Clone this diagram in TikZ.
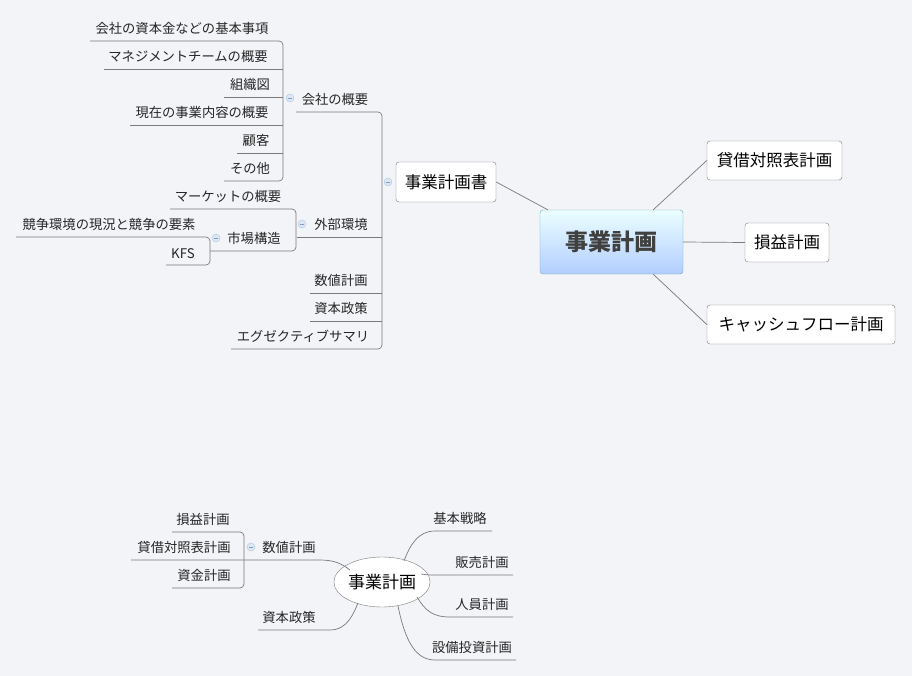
\documentclass[tikz,border=0pt]{standalone}
\usepackage{fontspec}
\usetikzlibrary{shapes.geometric}
\setmainfont{Noto Sans CJK JP}
\definecolor{bg}{HTML}{F3F4F8}
\definecolor{ln}{HTML}{7A7A7A}
\definecolor{cb}{HTML}{A9C4E4}
\begin{document}
\begin{tikzpicture}[x=1pt,y=-1pt,
  lbl/.style={inner sep=0pt,font=\fontsize{13.3}{15}\selectfont,text=black!85},
  box/.style={draw=ln,rounded corners=3pt,fill=white,font=\fontsize{16.5}{18}\selectfont,inner sep=0pt},
  br/.style={draw=ln,line width=0.7pt,rounded corners=4pt},
  col/.style={draw=cb,fill=cb!40,circle,inner sep=0pt,minimum size=8pt,
    path picture={\draw[cb!80!black,line width=0.6pt] ([xshift=-2pt]path picture bounding box.center) -- ([xshift=2pt]path picture bounding box.center);}},
  cl/.style={draw=ln,line width=0.7pt}]
\fill[bg] (0,0) rectangle (912,676);
\useasboundingbox (0,0) rectangle (912,676);
% ---- top map
\node[box,top color=cyan!8!white,bottom color=cyan!35!blue!30,draw=cyan!40!gray,minimum width=143pt,minimum height=64pt,font=\fontsize{23}{26}\selectfont\bfseries,text=black!75] (c) at (611.5,242) {事業計画};
\node[box,minimum width=135pt,minimum height=39pt] (r1) at (774.5,160.5) {貸借対照表計画};
\node[box,minimum width=84pt,minimum height=39pt] (r2) at (787,242.5) {損益計画};
\node[box,minimum width=188pt,minimum height=39pt] (r3) at (801,324.5) {キャッシュフロー計画};
\draw[cl] (c.north east)++(-30,0) -- (r1.west);
\draw[cl] (c.east) -- (r2.west);
\draw[cl] (c.south east)++(-30,0) -- (r3.west);
\node[box,minimum width=100pt,minimum height=40pt] (p) at (446,182) {事業計画書};
\draw[cl] (p.east) -- ([xshift=8pt]c.north west);
\node[col] (pc) at (388,182) {};
\draw[br] (296,112) -| (382,349) -- (231,349);
\foreach \y/\xa in {237/297,293/310,321/310} \draw[cl] (\xa,\y) -- (382,\y);
\node[lbl,anchor=south] (a1) at (335,106) {会社の概要};
\node[lbl,anchor=south] (a2) at (341,231) {外部環境};
\node[lbl,anchor=south] (a3) at (341,287) {数値計画};
\node[lbl,anchor=south] (a4) at (341,315) {資本政策};
\node[lbl,anchor=south] (a5) at (303,343) {エグゼクティブサマリ};
% company children
\node[col] (c1) at (290,98) {};
\draw[br] (90,41) -| (283,181) -- (224,181);
\foreach \y/\xa in {69/104,97/224,125/130,153/237} \draw[cl] (\xa,\y) -- (283,\y);
\node[lbl,anchor=south] (b1) at (182,35) {会社の資本金などの基本事項};
\node[lbl,anchor=south] (b2) at (188,63) {マネジメントチームの概要};
\node[lbl,anchor=south] (b3) at (250,91) {組織図};
\node[lbl,anchor=south] (b4) at (202,119) {現在の事業内容の概要};
\node[lbl,anchor=south] (b5) at (256,147) {顧客};
\node[lbl,anchor=south] (b6) at (250,175) {その他};
% external
\node[col] (c2) at (302,224) {};
\draw[br] (170,209) -| (296,251) -- (210,251);
\node[lbl,anchor=south] (d1) at (228,203) {マーケットの概要};
\node[lbl,anchor=south] (d2) at (254,245) {市場構造};
\node[col] (c3) at (216,238) {};
\draw[br] (16,237) -| (210,265) -- (166,265);
\node[lbl,anchor=south] (e1) at (109,231) {競争環境の現況と競争の要素};
\node[lbl,anchor=south] (e2) at (183,259) {KFS};
% ---- bottom map
\node[draw=ln,fill=white,ellipse,minimum width=82pt,minimum height=50pt,inner sep=0pt,font=\fontsize{17}{19}\selectfont] (m) at (382,582) {事業計画};
\draw[cl] (131,560) -- (320,560) .. controls (335,560) and (342,564) .. (350,570);
\draw[br] (172,532) -| (244,588) -- (172,588);
\node[col] (c4) at (251,547) {};
\node[lbl,anchor=south] (f1) at (289,554) {数値計画};
\node[lbl,anchor=south] (f2) at (203,526) {損益計画};
\node[lbl,anchor=south] (f3) at (184,554) {貸借対照表計画};
\node[lbl,anchor=south] (f4) at (204,582) {資金計画};
\draw[cl] (258,630) -- (330,630) .. controls (348,630) and (354,612) .. (358,603);
\node[lbl,anchor=south] (f5) at (289,624) {資本政策};
\draw[cl] (404,561) .. controls (410,545) and (418,531) .. (435,531) -- (492,531);
\draw[cl] (421,574) .. controls (428,575) and (428,575) .. (440,575) -- (513,575);
\draw[cl] (417,597) .. controls (425,610) and (432,617) .. (450,617) -- (513,617);
\draw[cl] (398,606) .. controls (405,640) and (415,660) .. (435,660) -- (516,660);
\node[lbl,anchor=south] (g1) at (460,525) {基本戦略};
\node[lbl,anchor=south] (g2) at (482,569) {販売計画};
\node[lbl,anchor=south] (g3) at (482,611) {人員計画};
\node[lbl,anchor=south] (g4) at (472,654) {設備投資計画};
\end{tikzpicture}
\end{document}
